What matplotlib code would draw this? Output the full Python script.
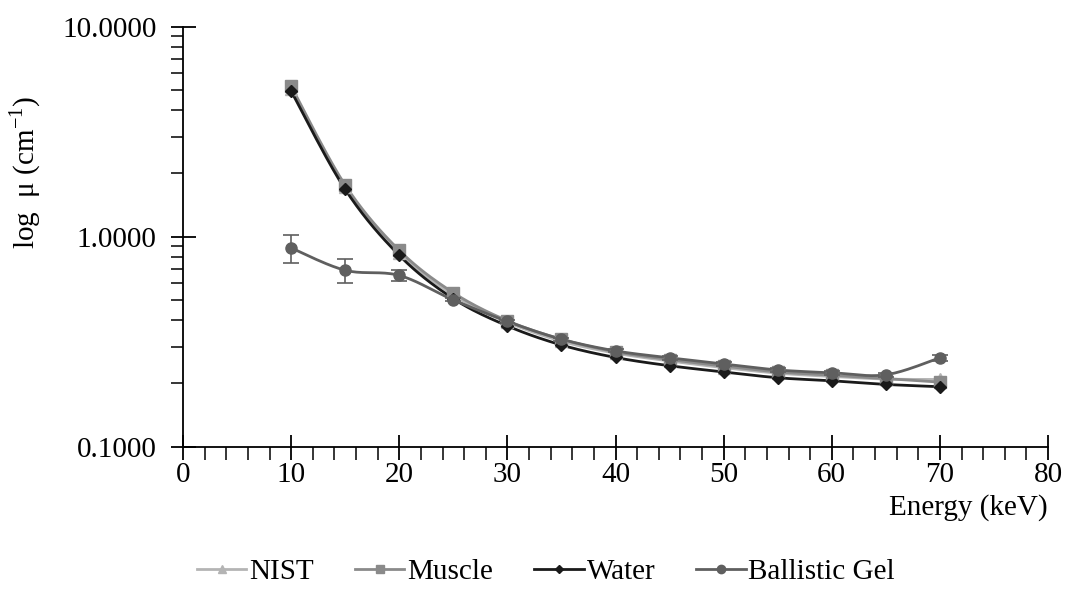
import numpy as np
import matplotlib
matplotlib.use("Agg")
import matplotlib.pyplot as plt
from matplotlib.ticker import FixedLocator, LogLocator, NullFormatter, FormatStrFormatter

plt.rcParams['font.family'] = ['Liberation Serif', 'DejaVu Serif']
plt.rcParams['mathtext.fontset'] = 'custom'
plt.rcParams['mathtext.rm'] = 'Liberation Serif'

energy = [10, 15, 20, 25, 30, 35, 40, 45, 50, 55, 60, 65, 70]
nist = [5.05, 1.72, 0.84, 0.528, 0.392, 0.318, 0.279, 0.256, 0.238, 0.224, 0.216, 0.210, 0.209]
muscle = [5.21, 1.76, 0.861, 0.541, 0.398, 0.325, 0.283, 0.260, 0.242, 0.227, 0.219, 0.211, 0.203]
water = [4.94, 1.68, 0.815, 0.507, 0.376, 0.305, 0.266, 0.243, 0.227, 0.213, 0.206, 0.198, 0.193]
gel = [0.884, 0.692, 0.654, 0.500, 0.395, 0.325, 0.286, 0.265, 0.248, 0.232, 0.225, 0.220, 0.265]
gel_err = [0.137, 0.090, 0.037, 0.008, 0.006, 0.005, 0.005, 0.005, 0.005, 0.005, 0.005, 0.005, 0.009]

series = [
    ("NIST", nist, "#b4b4b4", "^"),
    ("Muscle", muscle, "#8a8a8a", "s"),
    ("Water", water, "#1a1a1a", "D"),
    ("Ballistic Gel", gel, "#5f5f5f", "o"),
]


def smooth(x, y, n=20):
    """Excel-style smoothed line (Catmull-Rom) through points in (x, log y)."""
    x = np.asarray(x, float)
    ly = np.log10(np.asarray(y, float))
    P = np.column_stack([x, ly])
    out = [P[0]]
    for i in range(len(P) - 1):
        p0 = P[i - 1] if i > 0 else P[i]
        p1 = P[i]
        p2 = P[i + 1]
        p3 = P[i + 2] if i + 2 < len(P) else P[i + 1]
        c1 = p1 + (p2 - p0) / 6.0
        c2 = p2 - (p3 - p1) / 6.0
        t = np.linspace(0, 1, n)[1:, None]
        b = ((1 - t) ** 3) * p1 + 3 * ((1 - t) ** 2) * t * c1 + 3 * (1 - t) * t ** 2 * c2 + t ** 3 * p2
        out.extend(b)
    out = np.array(out)
    return out[:, 0], 10 ** out[:, 1]


fig = plt.figure(figsize=(10.65, 6.1), dpi=100)
ax = fig.add_axes([183 / 1065, 1 - 446.7 / 610, (1048 - 183) / 1065, (446.7 - 26.7) / 610])

FS = 21
handles = []
for name, vals, col, mk in series:
    sx, sy = smooth(energy, vals)
    ax.plot(sx, sy, color=col, lw=2.0, zorder=3)
    ms = 6 if mk == "D" else 8
    ax.plot(energy, vals, ls="none", marker=mk, color=col, ms=ms, zorder=4)
    h, = ax.plot([], [], color=col, lw=2.0, marker=mk, ms=ms * 0.75)
    handles.append((h, name))

ax.errorbar(energy, gel, yerr=gel_err, fmt="none", ecolor="#5f5f5f", elinewidth=1.2,
            capsize=6, capthick=1.2, zorder=5)

ax.set_yscale("log")
ax.set_xlim(0, 80)
ax.set_ylim(0.1, 10)
ax.spines["top"].set_visible(False)
ax.spines["right"].set_visible(False)
for s in ("left", "bottom"):
    ax.spines[s].set_linewidth(1.3)

ax.xaxis.set_major_locator(FixedLocator(list(range(0, 81, 10))))
ax.xaxis.set_minor_locator(FixedLocator(list(range(0, 81, 2))))
ax.yaxis.set_major_locator(FixedLocator([0.1, 1, 10]))
ax.yaxis.set_minor_locator(LogLocator(base=10, subs=np.arange(2, 10), numticks=20))
ax.yaxis.set_minor_formatter(NullFormatter())
ax.yaxis.set_major_formatter(FormatStrFormatter("%.4f"))

ax.tick_params(axis="both", which="major", direction="inout", length=18, width=1.3,
               labelsize=FS, colors="black")
ax.tick_params(axis="both", which="minor", direction="out", length=9, width=1.1)
ax.tick_params(axis="x", which="major", pad=2)
ax.tick_params(axis="y", which="major", pad=10)

fig.text(25 / 1065, 1 - 172 / 610, "log  μ (cm$^{\\mathregular{-1}}$)", rotation=90,
         ha="center", va="center", fontsize=FS)
fig.text(1048 / 1065, 1 - 508 / 610, "Energy (keV)", ha="right", va="center", fontsize=FS)

fig.legend([h for h, _ in handles], [n for _, n in handles], loc="center",
           bbox_to_anchor=(546 / 1065, 1 - 572 / 610), ncol=4, frameon=False, fontsize=FS,
           handlelength=1.7, handletextpad=0.1, columnspacing=1.4)

fig.savefig("out.png", dpi=100, facecolor="white")
